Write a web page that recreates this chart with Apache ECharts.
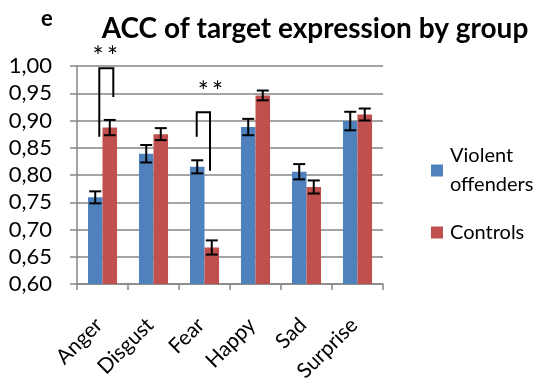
<!DOCTYPE html>
<html>
<head>
<meta charset="utf-8">
<script src="https://cdn.jsdelivr.net/npm/echarts@6/dist/echarts.min.js"></script>
<style>
html,body{margin:0;padding:0;background:#fff;}
#chart{width:546px;height:383px;}
</style>
</head>
<body>
<div id="chart"></div>
<script>
const categories = ['Anger', 'Disgust', 'Fear', 'Happy', 'Sad', 'Surprise'];
const yTicks = ['0,60','0,65','0,70','0,75','0,80','0,85','0,90','0,95','1,00'];
const violentValues = [0.759, 0.839, 0.815, 0.888, 0.806, 0.899];
const violentErrors = [0.011, 0.016, 0.012, 0.015, 0.014, 0.017];
const controlValues = [0.887, 0.875, 0.667, 0.946, 0.778, 0.911];
const controlErrors = [0.014, 0.011, 0.013, 0.009, 0.012, 0.011];
// significance brackets: category index, left leg bottom, top, right leg bottom
const bracketCats = [0, 2];
const bracketLeftBottom = [0.870, 0.870];
const bracketTop = [0.996, 0.915];
const bracketRightBottom = [0.943, 0.808];
const starValues = [1.028, 0.964];

const FONT = 'Lato';
const CAT_GAP = 0.43;
const chart = echarts.init(document.getElementById('chart'));

function errRender(side) {
  return function (params, api) {
    const x = api.value(0), v = api.value(1), e = api.value(2);
    const c = api.coord([x, v]);
    const band = api.size([1, 0])[0];
    const bw = band * (1 - CAT_GAP) / 2;
    const cx = c[0] + (side === 0 ? -bw / 2 : bw / 2);
    const top = api.coord([x, v + e])[1];
    const bot = api.coord([x, v - e])[1];
    const hw = 6;
    const st = { stroke: '#000', lineWidth: 2 };
    return {
      type: 'group',
      children: [
        { type: 'line', shape: { x1: cx, y1: top, x2: cx, y2: bot }, style: st },
        { type: 'line', shape: { x1: cx - hw, y1: top, x2: cx + hw, y2: top }, style: st },
        { type: 'line', shape: { x1: cx - hw, y1: bot, x2: cx + hw, y2: bot }, style: st }
      ]
    };
  };
}

const legOffsets = [[-0.063, 0.212], [-0.153, 0.108]];
function bracketRender(params, api) {
  const i = params.dataIndex;
  const x = api.value(0);
  const band = api.size([1, 0])[0];
  const c = api.coord([x, api.value(2)]);
  const xl = c[0] + legOffsets[i][0] * band;
  const xr = c[0] + legOffsets[i][1] * band;
  const yTop = c[1];
  const yl = api.coord([x, api.value(1)])[1];
  const yr = api.coord([x, api.value(3)])[1];
  const ys = api.coord([x, api.value(4)])[1] + 7;
  const xs = (xl + xr) / 2 + (i === 0 ? -1 : 7);
  return {
    type: 'group',
    children: [
      { type: 'polyline', shape: { points: [[xl, yl], [xl, yTop], [xr, yTop], [xr, yr]] },
        style: { stroke: '#000', lineWidth: 2, fill: null } },
      { type: 'text', style: { text: '*\u2009*', x: xs, y: ys, align: 'center', verticalAlign: 'middle',
        font: '26px ' + FONT, fill: '#000' } }
    ]
  };
}

const option = {
  animation: false,
  textStyle: { fontFamily: FONT },
  title: [
    { text: 'ACC of target expression by group', left: 310, top: 10, textAlign: 'center',
      textStyle: { fontFamily: FONT, fontWeight: 'bold', fontSize: 28, color: '#000' } },
    { text: 'e', left: 36, top: 3,
      textStyle: { fontFamily: FONT, fontWeight: 'bold', fontSize: 22, color: '#000' } }
  ],
  legend: {
    orient: 'vertical', left: 426, top: 122, itemWidth: 12, itemHeight: 12, itemGap: 4,
    icon: 'rect',
    data: [
      { name: 'Violent offenders', textStyle: { padding: [29, 0, 0, 2] } },
      { name: 'Controls', textStyle: { padding: [0, 0, 0, 2] } }
    ],
    formatter: function (n) { return n === 'Violent offenders' ? 'Violent\noffenders' : n; },
    textStyle: { fontFamily: FONT, fontSize: 20, color: '#000', lineHeight: 29 }
  },
  grid: { left: 77, right: 163, top: 66, bottom: 99, containLabel: false, outerBoundsMode: 'none' },
  xAxis: {
    type: 'category', data: categories, boundaryGap: true,
    axisLine: { lineStyle: { color: '#868686', width: 1.5 } },
    axisTick: { show: true, length: 6, lineStyle: { color: '#868686', width: 1.5 } },
    axisLabel: { rotate: 45, fontFamily: FONT, fontSize: 21, color: '#000', margin: 34, padding: [0, 5, 0, 0] }
  },
  yAxis: {
    type: 'value', min: 0.6, max: 1.0, interval: 0.05,
    axisLine: { show: true, lineStyle: { color: '#868686', width: 1.5 } },
    axisTick: { show: true, inside: false, length: 7, lineStyle: { color: '#868686', width: 1.5 } },
    splitLine: { lineStyle: { color: '#868686', width: 1.5 } },
    axisLabel: { fontFamily: FONT, fontSize: 22, color: '#000', margin: 25,
      formatter: function (v) { return yTicks[Math.round((v - 0.6) / 0.05)]; } }
  },
  series: [
    { name: 'Violent offenders', type: 'bar', data: violentValues, barGap: '0%', barCategoryGap: '43%',
      itemStyle: { color: '#4F81BD' } },
    { name: 'Controls', type: 'bar', data: controlValues, barGap: '0%', barCategoryGap: '43%',
      itemStyle: { color: '#C0504D' } },
    { type: 'custom', renderItem: errRender(0), z: 5,
      data: violentValues.map((v, i) => [i, v, violentErrors[i]]), encode: { x: 0, y: 1 } },
    { type: 'custom', renderItem: errRender(1), z: 5,
      data: controlValues.map((v, i) => [i, v, controlErrors[i]]), encode: { x: 0, y: 1 } },
    { type: 'custom', renderItem: bracketRender, z: 6, clip: false,
      data: bracketCats.map((c, i) => [c, bracketLeftBottom[i], bracketTop[i], bracketRightBottom[i], starValues[i]]),
      encode: { x: 0, y: 2 } }
  ]
};
chart.setOption(option);
</script>
</body>
</html>
